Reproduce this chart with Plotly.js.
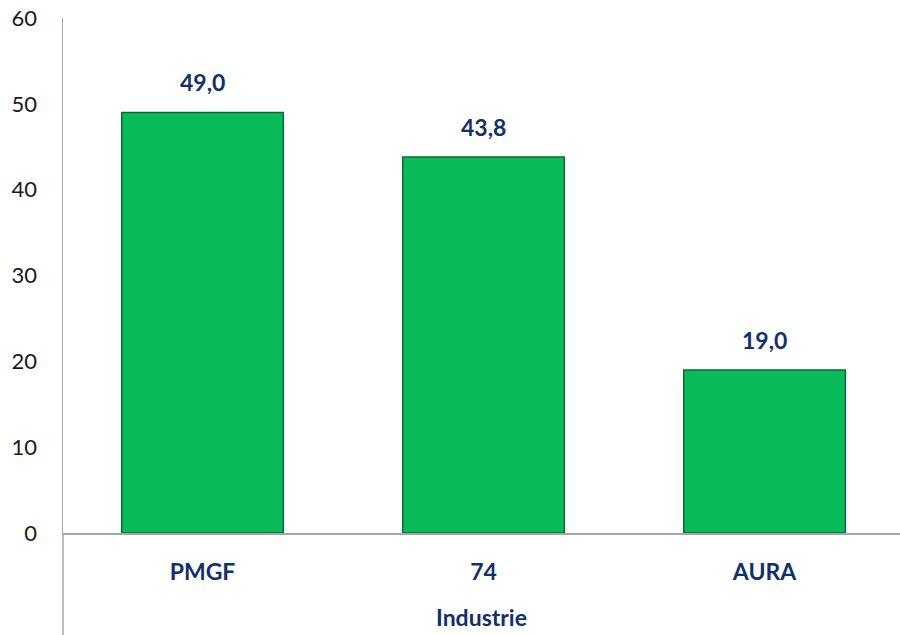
<!DOCTYPE html>
<html>
<head>
<meta charset="utf-8">
<script src="https://cdn.plot.ly/plotly-3.0.1.min.js"></script>
<style>html,body{margin:0;padding:0;background:#fff;}#chart{width:900px;height:635px;}</style>
</head>
<body>
<div id="chart"></div>
<script>
const categories = ["PMGF", "74", "AURA"];
const values = [49.0, 43.8, 19.0];
const yTicks = [0, 10, 20, 30, 40, 50, 60];
const axisTitle = "Industrie";

const navy = "#12306b";
const fmt = v => v.toFixed(1).replace(".", ",");

const trace = {
  type: "bar",
  x: categories,
  y: values,
  width: 0.575,
  marker: { color: "#0abb59", line: { color: "#0a6a33", width: 1.5 } },
  hoverinfo: "skip"
};

const annotations = categories.map((c, i) => ({
  x: i, y: values[i], xref: "x", yref: "y",
  text: "<b>" + fmt(values[i]) + "</b>",
  showarrow: false, yanchor: "bottom", yshift: 14,
  font: { family: "Lato, 'Open Sans', sans-serif", size: 23, color: navy }
}));

const layout = {
  width: 900, height: 635,
  margin: { l: 63, r: 0, t: 18, b: 102 },
  paper_bgcolor: "#fff", plot_bgcolor: "#fff",
  showlegend: false,
  xaxis: {
    type: "category",
    range: [-0.4964, 2.482],
    showline: true, linecolor: "#a6a6a6", linewidth: 1.5,
    showgrid: false, zeroline: false, ticks: "",
    ticklabelstandoff: 18,
    tickfont: { family: "Lato, 'Open Sans', sans-serif", size: 23, color: navy, weight: "bold" },
    title: { text: "<b>" + axisTitle + "</b>", standoff: 26,
      font: { family: "Lato, 'Open Sans', sans-serif", size: 23, color: navy } },
    automargin: false
  },
  yaxis: {
    range: [0, 60],
    tickvals: yTicks,
    showline: true, linecolor: "#a6a6a6", linewidth: 1.5,
    showgrid: false, zeroline: false, ticks: "",
    ticklabelstandoff: 20,
    tickfont: { family: "Lato, 'Open Sans', sans-serif", size: 22, color: "#1a1a1a" },
    automargin: false
  },
  shapes: [{
    type: "line", xref: "paper", yref: "paper",
    x0: 0, x1: 0, y0: 0, y1: -102 / 515,
    line: { color: "#a6a6a6", width: 1.5 }
  }],
  annotations: annotations
};

Plotly.newPlot("chart", [trace], layout, { displayModeBar: false, staticPlot: true });
</script>
</body>
</html>
